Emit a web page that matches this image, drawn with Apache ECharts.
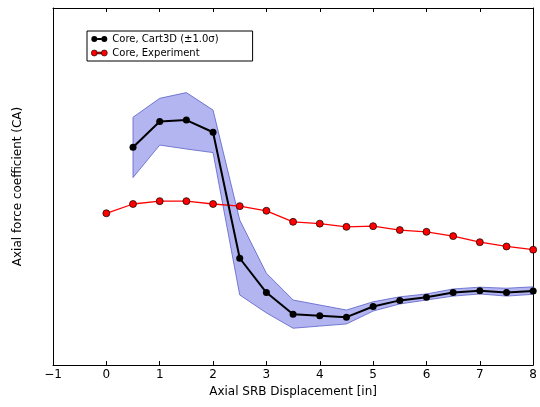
<!DOCTYPE html>
<html>
<head>
<meta charset="utf-8">
<script src="https://cdn.jsdelivr.net/npm/echarts@6/dist/echarts.min.js"></script>
<style>html,body{margin:0;padding:0;background:#fff}#c{width:540px;height:407px}</style>
</head>
<body>
<div id="c"></div>
<script>
var cartX = [0.5,1,1.5,2,2.5,3,3.5,4,4.5,5,5.5,6,6.5,7,7.5,8];
var cartMean = [61.0,68.2,68.6,65.2,29.9,20.3,14.2,13.8,13.4,16.4,18.1,19.0,20.3,20.8,20.3,20.7];
var cartUpper = [69.4,74.7,76.3,71.4,40.6,25.7,18.2,16.8,15.4,17.7,19.1,19.9,21.3,21.8,21.5,21.9];
var cartLower = [52.5,61.6,60.5,59.5,19.6,14.6,10.3,10.9,11.5,15.1,17.1,18.2,19.3,19.9,19.3,19.8];
var expX = [0,0.5,1,1.5,2,2.5,3,3.5,4,4.5,5,5.5,6,6.5,7,7.5,8];
var expVal = [42.5,45.1,45.9,45.9,45.1,44.5,43.2,40.1,39.6,38.7,38.9,37.8,37.3,36.1,34.4,33.2,32.3];
var xTicks = [-1,0,1,2,3,4,5,6,7,8];

function zip(a,b){return a.map(function(v,i){return [v,b[i]];});}

var chart = echarts.init(document.getElementById('c'));
var font = 'DejaVu Sans';
var iconPath = 'path://M0,3A3,3 0 1,0 6,3A3,3 0 1,0 0,3Z M10,3A3,3 0 1,0 16,3A3,3 0 1,0 10,3Z M6,2.1L10,2.1L10,3.9L6,3.9Z';

chart.setOption({
  animation: false,
  textStyle: {fontFamily: font},
  grid: {left: 53, right: 1, top: 8, bottom: 42},
  legend: {
    orient: 'vertical', left: 87, top: 31,
    borderColor: '#000', borderWidth: 1, borderRadius: 0,
    padding: [3, 34, 3, 4], itemGap: 4, itemWidth: 16, itemHeight: 7,
    textStyle: {fontFamily: font, fontSize: 10, color: '#000'},
    data: [
      {name: 'Core, Cart3D (±1.0σ)', icon: iconPath, itemStyle: {color: '#000', borderWidth: 0}},
      {name: 'Core, Experiment', icon: iconPath, itemStyle: {color: '#f00', borderColor: '#000', borderWidth: 0.6}}
    ]
  },
  xAxis: [{
    type: 'value', min: -1, max: 8, interval: 1,
    name: 'Axial SRB Displacement [in]', nameLocation: 'middle', nameGap: 19,
    nameTextStyle: {fontFamily: font, fontSize: 12, color: '#000'},
    axisLine: {onZero: false, lineStyle: {color: '#000', width: 1}},
    axisTick: {inside: true, length: 4, lineStyle: {color: '#000'}},
    axisLabel: {fontFamily: font, fontSize: 12, color: '#000', margin: 4,
      formatter: function(v){return String(v).replace('-', '\u2212');}},
    splitLine: {show: false}
  }, {
    type: 'value', position: 'top', min: -1, max: 8, interval: 1,
    axisLine: {onZero: false, lineStyle: {color: '#000', width: 1}},
    axisTick: {inside: true, length: 4, lineStyle: {color: '#000'}},
    axisLabel: {show: false}, splitLine: {show: false}
  }],
  yAxis: [{
    type: 'value', min: 0, max: 100,
    name: 'Axial force coefficient (CA)', nameLocation: 'middle', nameGap: 29,
    nameTextStyle: {fontFamily: font, fontSize: 12, color: '#000'},
    axisLine: {show: true, onZero: false, lineStyle: {color: '#000', width: 1}},
    axisTick: {show: false}, axisLabel: {show: false}, splitLine: {show: false}
  }, {
    type: 'value', position: 'right', min: 0, max: 100,
    axisLine: {show: true, onZero: false, lineStyle: {color: '#000', width: 1}},
    axisTick: {show: false}, axisLabel: {show: false}, splitLine: {show: false}
  }],
  series: [{
    type: 'custom', name: 'band', silent: true, z: 1,
    data: [[cartX[0], cartMean[0]]],
    renderItem: function(params, api) {
      var pts = [];
      for (var i = 0; i < cartX.length; i++) pts.push(api.coord([cartX[i], cartUpper[i]]));
      for (var j = cartX.length - 1; j >= 0; j--) pts.push(api.coord([cartX[j], cartLower[j]]));
      return {type: 'polygon', shape: {points: pts},
        style: {fill: '#b3b5f0', stroke: '#5a60c8', lineWidth: 0.8}};
    }
  }, {
    type: 'line', name: 'Core, Experiment', data: zip(expX, expVal), z: 3,
    symbol: 'circle', symbolSize: 7,
    lineStyle: {color: '#f00', width: 1.3},
    itemStyle: {color: '#f00', borderColor: '#000', borderWidth: 0.7}
  }, {
    type: 'line', name: 'Core, Cart3D (±1.0σ)', data: zip(cartX, cartMean), z: 4,
    symbol: 'circle', symbolSize: 7,
    lineStyle: {color: '#000', width: 2},
    itemStyle: {color: '#000'}
  }]
});
</script>
</body>
</html>
